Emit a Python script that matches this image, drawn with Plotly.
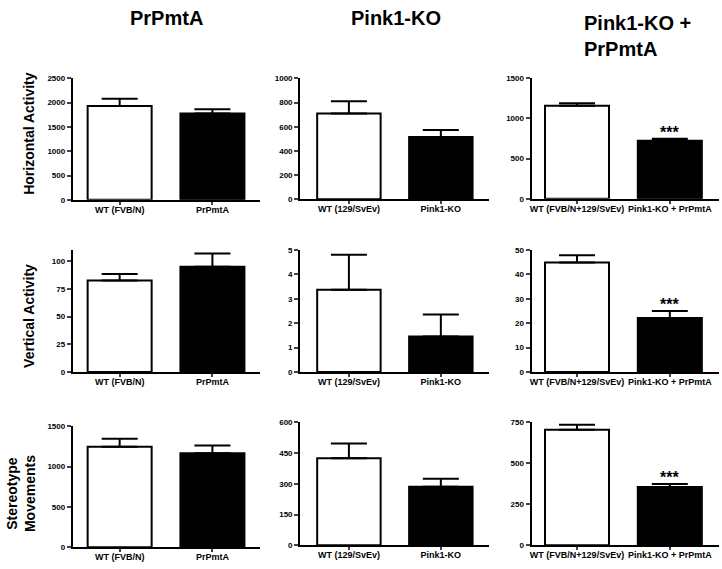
import plotly.graph_objects as go

W, H = 722, 569

col_titles = ["PrPmtA", "Pink1-KO", "Pink1-KO +<br>PrPmtA"]
row_titles = ["Horizontal Activity", "Vertical Activity", "Stereotype<br>Movements"]

groups = [
    ["WT (FVB/N)", "PrPmtA"],
    ["WT (129/SvEv)", "Pink1-KO"],
    ["WT (FVB/N+129/SvEv)", "Pink1-KO + PrPmtA"],
]

horizontal_mean = [[1930, 1775], [710, 515], [1155, 720]]
horizontal_sem = [[150, 90], [100, 57], [30, 25]]
vertical_mean = [[82.5, 95], [3.37, 1.46], [44.9, 22.2]]
vertical_sem = [[6, 12], [1.44, 0.9], [3, 2.8]]
stereo_mean = [[1245, 1165], [425, 285], [705, 355]]
stereo_sem = [[100, 95], [72, 40], [30, 18]]

means = [horizontal_mean, vertical_mean, stereo_mean]
sems = [horizontal_sem, vertical_sem, stereo_sem]

y_max = [[2500, 1000, 1500], [110, 5, 50], [1500, 600, 750]]
y_dtick = [[500, 200, 500], [25, 1, 10], [500, 150, 250]]
significant = [[False, False, True], [False, False, True], [False, False, True]]

# layout geometry (pixels)
col_px = [(71, 259), (299, 488), (531, 719)]
col_xrange = [(-0.505, 1.516), (-0.53, 1.52), (-0.49, 1.53)]
row_px = [
    [(75.5, 199), (75.5, 198.5), (75, 198)],
    [(250, 374), (250, 374), (250, 374)],
    [(429, 552), (425, 550), (425, 550)],
]

FONT = "Liberation Sans, Arial, sans-serif"

fig = go.Figure()
layout = dict(
    width=W, height=H, margin=dict(l=0, r=0, t=0, b=0),
    paper_bgcolor="white", plot_bgcolor="white", showlegend=False,
    font=dict(family=FONT, color="black"),
)
annotations = []

k = 0
for r in range(3):
    for c in range(3):
        k += 1
        xa = "x" if k == 1 else f"x{k}"
        ya = "y" if k == 1 else f"y{k}"
        m = means[r][c]
        s = sems[r][c]
        fig.add_trace(go.Bar(
            x=[0, 1], y=m, width=0.69,
            marker=dict(color=["white", "black"], line=dict(color="black", width=2)),
            error_y=dict(type="data", symmetric=False, array=s, arrayminus=[0, 0],
                         color="black", thickness=2, width=18),
            xaxis=xa, yaxis=ya, cliponaxis=False,
        ))
        x0, x1 = col_px[c]
        yt, yb = row_px[r][c]
        layout["xaxis" if k == 1 else f"xaxis{k}"] = dict(
            domain=[x0 / W, x1 / W], range=list(col_xrange[c]), anchor=ya,
            tickvals=[0, 1], ticktext=groups[c], ticks="outside", ticklen=3,
            tickwidth=1.5, showline=True, linewidth=2, linecolor="black",
            showgrid=False, zeroline=False, fixedrange=True, ticklabelstandoff=-3,
            tickfont=dict(family=FONT, size=9, color="black", weight="bold"),
        )
        layout["yaxis" if k == 1 else f"yaxis{k}"] = dict(
            domain=[1 - yb / H, 1 - yt / H], range=[0, y_max[r][c]], anchor=xa,
            dtick=y_dtick[r][c], tick0=0, ticks="outside", ticklen=4, tickwidth=2,
            showline=True, linewidth=2, linecolor="black", showgrid=False,
            zeroline=False, fixedrange=True,
            tickfont=dict(family=FONT, size=8, color="black", weight="bold"),
        )
        if significant[r][c]:
            annotations.append(dict(
                x=1, y=m[1] + s[1], xref=xa, yref=ya, text="***",
                showarrow=False, yanchor="bottom", yshift=-4,
                font=dict(family=FONT, size=16, color="black", weight="bold"),
            ))

# column titles
annotations.append(dict(x=165 / W, y=1 - 14 / H, xref="paper", yref="paper", text=col_titles[0],
                        showarrow=False, xanchor="center", yanchor="middle",
                        font=dict(family=FONT, size=20, color="black", weight="bold")))
annotations.append(dict(x=395 / W, y=1 - 14 / H, xref="paper", yref="paper", text=col_titles[1],
                        showarrow=False, xanchor="center", yanchor="middle",
                        font=dict(family=FONT, size=20, color="black", weight="bold")))
annotations.append(dict(x=582 / W, y=1 - 33 / H, xref="paper", yref="paper", text=col_titles[2],
                        showarrow=False, xanchor="left", yanchor="middle", align="left",
                        font=dict(family=FONT, size=20, color="black", weight="bold")))

# row titles
row_pos = [(27, 131), (27, 317), (19, 497)]
for (px, py), t in zip(row_pos, row_titles):
    annotations.append(dict(x=px / W, y=1 - py / H, xref="paper", yref="paper", text=t,
                            showarrow=False, textangle=-90, xanchor="center", yanchor="middle",
                            font=dict(family=FONT, size=14, color="black", weight="bold")))

layout["annotations"] = annotations
fig.update_layout(**layout)
fig.write_html("out.html", config={"displayModeBar": False},
               post_script="document.body.style.margin='0';document.body.style.overflow='hidden';")
